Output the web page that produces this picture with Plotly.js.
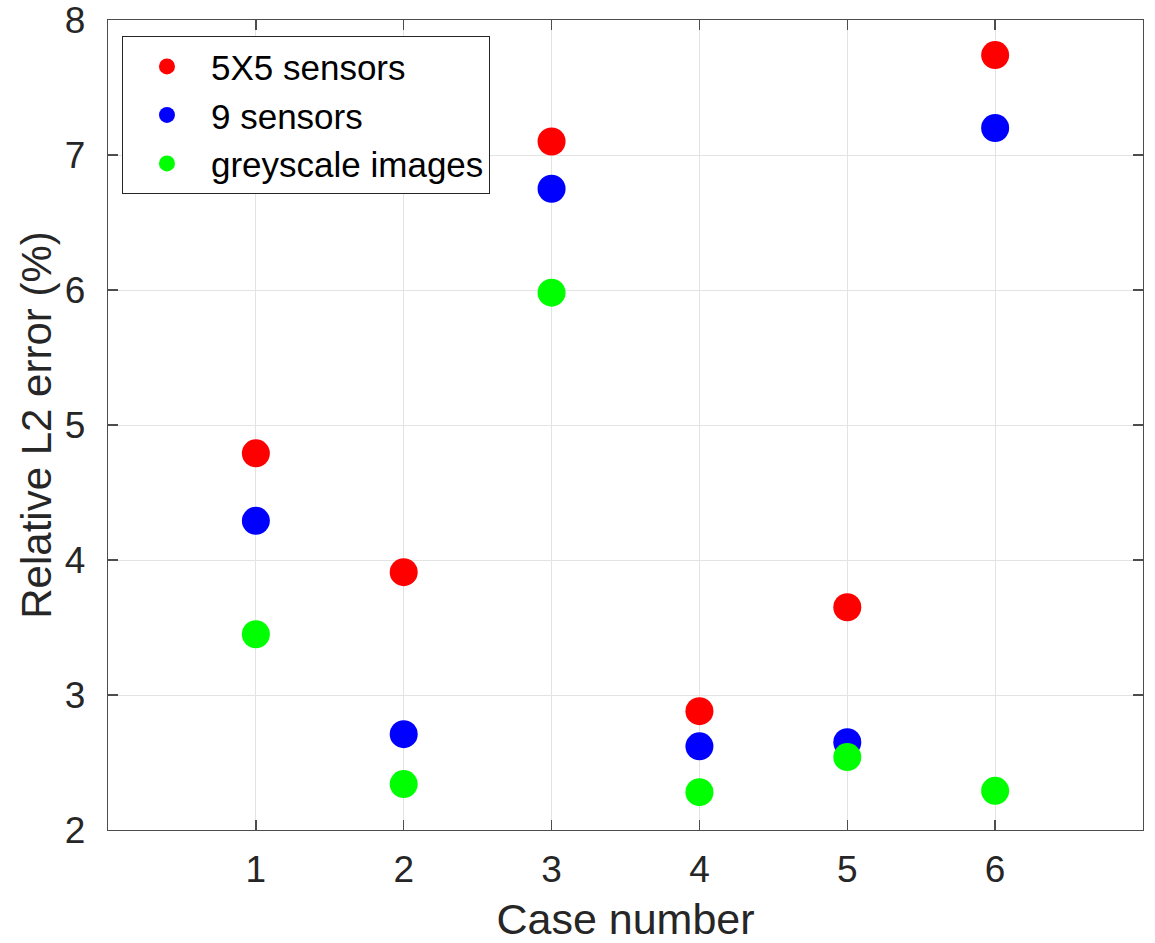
<!DOCTYPE html>
<html>
<head>
<meta charset="utf-8">
<script src="https://cdn.plot.ly/plotly-3.0.1.min.js"></script>
<style>
  html, body { margin: 0; padding: 0; background: #fff; }
  #chart { width: 1155px; height: 943px; }
</style>
</head>
<body>
<div id="chart"></div>
<script>
// Relative L2 error per test case for three input types
const cases = [1, 2, 3, 4, 5, 6];
const sensors5x5 = [4.79, 3.91, 7.10, 2.88, 3.65, 7.74];
const sensors9 = [4.29, 2.71, 6.75, 2.62, 2.65, 7.20];
const greyscale = [3.45, 2.34, 5.98, 2.28, 2.54, 2.29];

const seriesNames = ['5X5 sensors', '9 sensors', 'greyscale images'];
const seriesColors = ['#ff0000', '#0000ff', '#00ff00'];
const seriesValues = [sensors5x5, sensors9, greyscale];

const textColor = '#262626';
const fontFamily = '"Liberation Sans", Arial, sans-serif';

const traces = seriesValues.map((vals, i) => ({
  x: cases,
  y: vals,
  type: 'scatter',
  mode: 'markers',
  name: seriesNames[i],
  marker: { color: seriesColors[i], size: 28, line: { width: 0 } }
}));

const axisCommon = {
  showline: true,
  linecolor: '#4d4d4d',
  linewidth: 1.3,
  mirror: 'allticks',
  ticks: 'inside',
  ticklen: 10,
  tickwidth: 1.3,
  tickcolor: '#4d4d4d',
  showgrid: true,
  gridcolor: '#e3e3e3',
  gridwidth: 1,
  zeroline: false,
  ticklabeloverflow: 'allow',
  tickfont: { family: fontFamily, size: 37, color: textColor }
};

const layout = {
  width: 1155,
  height: 943,
  margin: { l: 108, r: 12, t: 20, b: 113 },
  paper_bgcolor: '#ffffff',
  plot_bgcolor: '#ffffff',
  showlegend: true,
  xaxis: Object.assign({}, axisCommon, {
    range: [0, 7],
    tickvals: cases,
    ticktext: cases.map(String),
    ticklabelstandoff: 6,
    title: { text: 'Case number', font: { family: fontFamily, size: 43, color: textColor }, standoff: 18 }
  }),
  yaxis: Object.assign({}, axisCommon, {
    range: [2, 8],
    tickvals: [2, 3, 4, 5, 6, 7, 8],
    ticklabelstandoff: 14,
    title: { text: 'Relative L2 error (%)', font: { family: fontFamily, size: 42, color: textColor }, standoff: 0 }
  }),
  legend: {
    x: 0.0135,
    y: 0.98,
    xanchor: 'left',
    yanchor: 'top',
    bgcolor: '#ffffff',
    bordercolor: '#262626',
    borderwidth: 1,
    itemwidth: 78,
    font: { family: fontFamily, size: 35, color: '#000000' },
    itemsizing: 'trace'
  }
};

Plotly.newPlot('chart', traces, layout, { displayModeBar: false, staticPlot: true });
</script>
</body>
</html>
